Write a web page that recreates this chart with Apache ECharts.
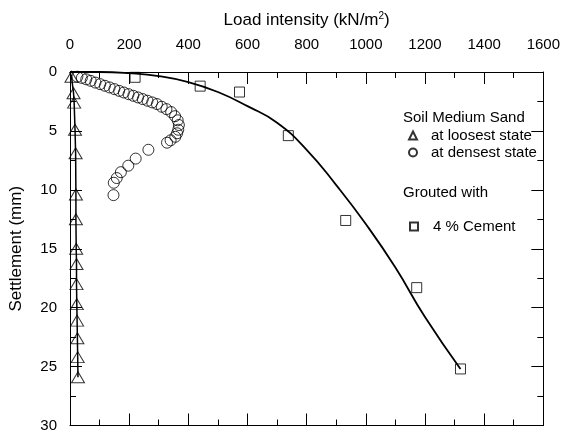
<!DOCTYPE html>
<html>
<head>
<meta charset="utf-8">
<script src="https://cdn.jsdelivr.net/npm/echarts@6/dist/echarts.min.js"></script>
<style>html,body{margin:0;padding:0;background:#fff}#c{width:563px;height:433px}</style>
</head>
<body>
<div id="c"></div>
<script>
// Loosest state (triangles)
const looseLoad   = [5, 12, 14, 17, 19, 20, 20, 21, 22, 22, 23, 24, 25, 26, 27];
const looseSettle = [0.4, 1.8, 2.6, 4.9, 6.9, 10.4, 12.5, 15.0, 16.3, 18.0, 19.7, 21.1, 22.6, 24.2, 25.9];
// Densest state (circles)
const denseLoad   = [25, 40, 55, 70, 86, 102, 118, 134, 150, 166, 182, 198, 214, 230, 246, 262, 278, 294, 310, 326, 342, 355, 364, 368, 366, 362, 356, 340, 328, 265, 222, 197, 172, 158, 148, 147];
const denseSettle = [0.4, 0.5, 0.62, 0.75, 0.9, 1.03, 1.17, 1.31, 1.45, 1.6, 1.74, 1.88, 2.02, 2.16, 2.3, 2.44, 2.58, 2.72, 2.95, 3.15, 3.4, 3.75, 4.1, 4.5, 4.9, 5.2, 5.5, 5.8, 6.0, 6.6, 7.35, 7.95, 8.5, 9.0, 9.4, 10.45];
// Grouted with 4 % cement (squares)
const cementLoad   = [220, 440, 573, 738, 932, 1172, 1320];
const cementSettle = [0.45, 1.2, 1.7, 5.4, 12.6, 18.3, 25.2];
// Fitted curve for cement
const curveLoad   = [0, 100, 200, 300, 400, 500, 600, 700, 800, 900, 1000, 1100, 1200, 1320];
const curveSettle = [0, 0.0, 0.1, 0.35, 0.85, 1.7, 2.9, 4.3, 6.6, 9.6, 12.9, 16.6, 20.8, 25.2];
// Axis ticks
const xTicks = [0, 200, 400, 600, 800, 1000, 1200, 1400, 1600];
const yTicks = [0, 5, 10, 15, 20, 25, 30];

const zip = (a, b) => a.map((v, i) => [v, b[i]]);
const FONT = '"Liberation Sans", Arial, sans-serif';
const black = '#000';

function axisCommon() {
  return {
    type: 'value',
    axisLine: { show: true, onZero: false, lineStyle: { color: black, width: 1 } },
    axisTick: { show: true, inside: true, length: 12, lineStyle: { color: black } },
    minorTick: { show: true, splitNumber: 2, length: 6, lineStyle: { color: black } },
    splitLine: { show: false },
    minorSplitLine: { show: false }
  };
}
const plain = v => String(v);

const chart = echarts.init(document.getElementById('c'), null, { renderer: 'canvas' });
chart.setOption({
  animation: false,
  backgroundColor: '#fff',
  textStyle: { fontFamily: FONT, color: black },
  grid: { left: 66, top: 72, right: 18, bottom: 6, containLabel: false },
  xAxis: [
    Object.assign(axisCommon(), {
      position: 'top', min: xTicks[0], max: xTicks[xTicks.length - 1], interval: xTicks[1] - xTicks[0],
      axisLabel: { show: true, margin: 20, fontSize: 15, color: black, fontFamily: FONT, formatter: plain },
      name: '{a|Load intensity (kN/m}{b|2}{a|)}', nameLocation: 'middle', nameGap: 42,
      nameTextStyle: { rich: {
        a: { fontSize: 17, fontFamily: FONT, color: black },
        b: { fontSize: 10, fontFamily: FONT, color: black, padding: [0, 0, 9, 0] }
      } }
    }),
    Object.assign(axisCommon(), {
      position: 'bottom', min: xTicks[0], max: xTicks[xTicks.length - 1], interval: xTicks[1] - xTicks[0],
      axisLabel: { show: false }
    })
  ],
  yAxis: [
    Object.assign(axisCommon(), {
      position: 'left', inverse: true, min: yTicks[0], max: yTicks[yTicks.length - 1], interval: yTicks[1] - yTicks[0],
      axisLabel: { show: true, margin: 13, fontSize: 15, color: black, fontFamily: FONT, formatter: plain },
      name: 'Settlement (mm)', nameLocation: 'middle', nameGap: 45,
      nameTextStyle: { fontSize: 17, color: black, fontFamily: FONT }
    }),
    Object.assign(axisCommon(), {
      position: 'right', inverse: true, min: yTicks[0], max: yTicks[yTicks.length - 1], interval: yTicks[1] - yTicks[0],
      axisLabel: { show: false }
    })
  ],
  legend: [
    {
      data: ['at loosest state', 'at densest state'],
      orient: 'vertical', left: 403, top: 122, itemGap: 0,
      itemWidth: 8, itemHeight: 8,
      textStyle: { fontSize: 15, color: black, fontFamily: FONT, lineHeight: 17, padding: [0, 0, 0, 9] },
      selectedMode: false
    },
    {
      data: ['4 % Cement'],
      orient: 'vertical', left: 404, top: 213, itemGap: 0,
      itemWidth: 8, itemHeight: 8,
      textStyle: { fontSize: 15, color: black, fontFamily: FONT, lineHeight: 17, padding: [0, 0, 0, 10] },
      selectedMode: false
    }
  ],
  graphic: [
    { type: 'text', left: 403, top: 110, style: { text: 'Soil Medium Sand', font: '15px ' + FONT, fill: black } },
    { type: 'text', left: 403, top: 185, style: { text: 'Grouted with', font: '15px ' + FONT, fill: black } }
  ],
  series: [
    {
      name: 'loose line', type: 'line', xAxisIndex: 0, yAxisIndex: 0,
      data: [[0, 0]].concat(zip(looseLoad, looseSettle)),
      showSymbol: false, symbol: 'none', lineStyle: { color: black, width: 1.5 }, z: 2
    },
    {
      name: 'at loosest state', type: 'scatter', xAxisIndex: 0, yAxisIndex: 0,
      data: zip(looseLoad, looseSettle), symbol: 'triangle', symbolSize: [13, 11],
      itemStyle: { color: 'rgba(0,0,0,0)', borderColor: black, borderWidth: 1 }, z: 3
    },
    {
      name: 'at densest state', type: 'scatter', xAxisIndex: 0, yAxisIndex: 0,
      data: zip(denseLoad, denseSettle), symbol: 'circle', symbolSize: 11,
      itemStyle: { color: 'rgba(0,0,0,0)', borderColor: black, borderWidth: 1 }, z: 3
    },
    {
      name: 'cement curve', type: 'line', xAxisIndex: 0, yAxisIndex: 0,
      data: zip(curveLoad, curveSettle), smooth: true,
      showSymbol: false, symbol: 'none', lineStyle: { color: black, width: 1.8 }, z: 2
    },
    {
      name: '4 % Cement', type: 'scatter', xAxisIndex: 0, yAxisIndex: 0,
      data: zip(cementLoad, cementSettle), symbol: 'rect', symbolSize: 10,
      itemStyle: { color: 'rgba(0,0,0,0)', borderColor: black, borderWidth: 1 }, z: 3
    }
  ]
});
</script>
</body>
</html>
